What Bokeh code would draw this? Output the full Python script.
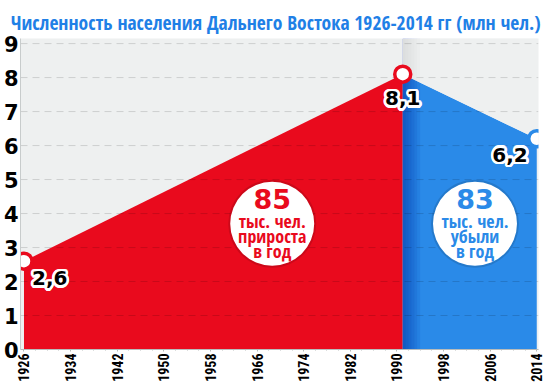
import math
from bokeh.plotting import figure
from bokeh.models import ColumnDataSource, FixedTicker, Title
from bokeh.core.properties import value
from bokeh.embed import file_html
from bokeh.resources import INLINE

# ---- data ----
years = [1926, 1991, 2014]
population = [2.6, 8.1, 6.2]
point_labels = ["2,6", "8,1", "6,2"]
x_ticks = [1926, 1934, 1942, 1950, 1958, 1966, 1974, 1982, 1990, 1998, 2006, 2014]
y_ticks = [0, 1, 2, 3, 4, 5, 6, 7, 8, 9]
bubble_numbers = ["85", "83"]
bubble_lines = [["тыс. чел.", "прироста", "в год"], ["тыс. чел.", "убыли", "в год"]]
bubble_x = [1968.6, 2003.4]
bubble_y = [3.7, 3.7]
title_text = "Численность населения Дальнего Востока 1926-2014 гг (млн чел.)"

RED = "#e90a1d"
BLUE = "#2a8ae8"
DARKBLUE = "#0a46c0"
BG = "#eef0f0"
TITLE_BLUE = "#1f80e6"
COND = "Open Sans Condensed"

X0, X1 = 1925.4, 2014.3
Y0, Y1 = 0, 9.15

p = figure(width=544, height=384, x_range=(X0, X1), y_range=(Y0, Y1),
           output_backend="svg", toolbar_location=None,
           min_border_left=18, min_border_right=6, min_border_top=38, min_border_bottom=28,
           background_fill_color=BG, border_fill_color="white", outline_line_color=None)

t = Title(text=title_text, text_font=COND, text_font_size="19.5px",
          text_font_style="bold", text_color=TITLE_BLUE, align="left", offset=-10, standoff=5)
p.add_layout(t, "above")

p.xgrid.visible = False
p.ygrid.visible = False

# areas
p.varea(x=years[:2], y1=[0, 0], y2=population[:2], fill_color=RED)
p.varea(x=years[1:], y1=[0, 0], y2=population[1:], fill_color=BLUE)

# dark-blue shading next to the divide
n = 6
for i in range(n):
    p.quad(left=[years[1]], right=[years[1] + 0.5 * (i + 1)], bottom=[Y0], top=[Y1],
           fill_color=DARKBLUE, fill_alpha=0.1, line_color=None)
# restore background above the blue line
p.varea(x=years[1:], y1=population[1:], y2=[Y1, Y1], fill_color=BG)
for i in range(n):
    p.quad(left=[years[1]], right=[years[1] + 0.5 * (i + 1)], bottom=[Y0], top=[Y1],
           fill_color="black", fill_alpha=0.012, line_color=None)

# grid lines (over the areas)
p.segment(x0=[X0] * len(y_ticks), x1=[X1] * len(y_ticks), y0=y_ticks, y1=y_ticks,
          line_color="black", line_alpha=0.14, line_width=1, line_dash="7 5")

# bubbles
p.scatter(x=bubble_x, y=bubble_y, size=88, marker="circle", fill_color="black",
          fill_alpha=0.12, line_color=None)
p.scatter(x=bubble_x, y=bubble_y, size=84, marker="circle", fill_color="white", line_color=None)
bcolors = [RED, BLUE]
for i in range(2):
    p.text(x=[bubble_x[i]], y=[bubble_y[i]], text=[bubble_numbers[i]], y_offset=-25,
           text_font=value("DejaVu Sans"), text_font_style="bold", text_font_size="27px",
           text_color=bcolors[i], text_align="center", text_baseline="middle")
    p.text(x=[bubble_x[i]] * 3, y=[bubble_y[i]] * 3, text=bubble_lines[i],
           y_offset=[-3, 12, 27],
           text_font=value(COND), text_font_style="bold", text_font_size="18px",
           text_color=bcolors[i], text_align="center", text_baseline="middle")

# markers
p.scatter(x=years, y=population, size=16, marker="circle", fill_color="white",
          line_color=[RED, RED, BLUE], line_width=3.5)

# value labels with white halo
label_xo = [8, 0, -9]
label_yo = [10, 17, 9]
label_align = ["left", "center", "right"]
for k in range(17):
    if k < 16:
        a = 2 * math.pi * k / 16
        dx, dy = 2.6 * math.cos(a), 2.6 * math.sin(a)
        col = "white"
    else:
        dx, dy = 0, 0
        col = "black"
    src = ColumnDataSource(dict(x=years, y=population, t=point_labels,
                                xo=[v + dx for v in label_xo],
                                yo=[v + dy for v in label_yo],
                                al=label_align))
    p.text(x="x", y="y", text="t", source=src, x_offset="xo", y_offset="yo",
           text_align="al", text_baseline="top",
           text_font=value("DejaVu Sans"), text_font_style="bold", text_font_size="20px",
           text_color=col)

# axes
p.xaxis.ticker = FixedTicker(ticks=x_ticks, minor_ticks=list(range(1926, 2015, 2)))
p.xaxis.major_label_orientation = math.pi / 2
p.xaxis.major_label_text_font = "Roboto Condensed"
p.xaxis.major_label_text_font_style = "bold"
p.xaxis.major_label_text_font_size = "14px"
p.xaxis.major_label_text_color = "black"
p.xaxis.major_label_standoff = 2
p.xaxis.axis_line_color = "#b8bcbc"
p.xaxis.major_tick_line_color = "#b8bcbc"
p.xaxis.minor_tick_line_color = "#b8bcbc"
p.xaxis.major_tick_out = 2
p.xaxis.major_tick_in = 0
p.xaxis.minor_tick_out = 1
p.xaxis.minor_tick_in = 0

p.yaxis.ticker = FixedTicker(ticks=y_ticks)
p.yaxis.major_label_text_font = "DejaVu Sans"
p.yaxis.major_label_text_font_style = "bold"
p.yaxis.major_label_text_font_size = "21px"
p.yaxis.major_label_text_color = "black"
p.yaxis.major_label_standoff = 2
p.yaxis.axis_line_color = "#c8cccc"
p.yaxis.major_tick_line_color = None
p.yaxis.minor_tick_line_color = None
p.yaxis.major_tick_out = 0

open("out.html", "w").write(file_html(p, INLINE))
